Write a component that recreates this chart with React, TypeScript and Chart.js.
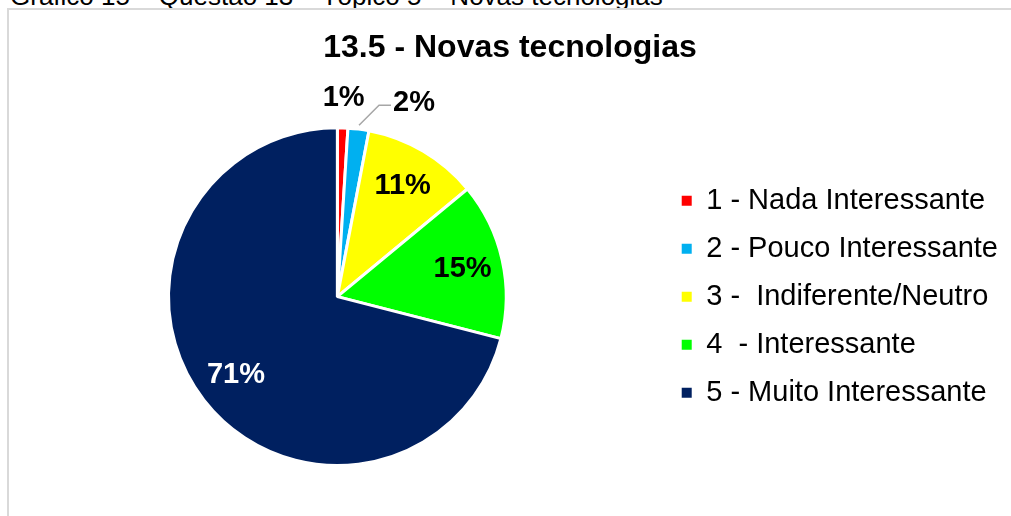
import React, { useEffect, useRef } from 'react';
import { Chart, registerables } from 'chart.js';

Chart.register(...registerables);

// ---- data ----
const categories = [
  '1 - Nada Interessante',
  '2 - Pouco Interessante',
  '3 -  Indiferente/Neutro',
  '4  - Interessante',
  '5 - Muito Interessante',
];
const values = [1, 2, 11, 15, 71];
const valueLabels = ['1%', '2%', '11%', '15%', '71%'];
const chartTitle = '13.5 - Novas tecnologias';
const caption = 'Gráfico 15 – Questão 13 – Tópico 5 – Novas tecnologias';

// ---- styles ----
const sliceColors = ['#FF0000', '#00B0F0', '#FFFF00', '#00FF00', '#002060'];
const labelColors = ['#000000', '#000000', '#000000', '#000000', '#FFFFFF'];
const labelPlacement = ['outside', 'leader', 'inside', 'inside', 'inside'];
const FONT = 'Arial, "Liberation Sans", sans-serif';

const sliceLabelPlugin = {
  id: 'sliceLabels',
  afterDatasetsDraw(chart: any) {
    const { ctx } = chart;
    const meta = chart.getDatasetMeta(0);
    ctx.save();
    ctx.font = `bold 29px ${FONT}`;
    ctx.textBaseline = 'middle';
    meta.data.forEach((arc: any, i: number) => {
      const { x, y, startAngle, endAngle, outerRadius } = arc.getProps(
        ['x', 'y', 'startAngle', 'endAngle', 'outerRadius'],
        true
      );
      const mid = (startAngle + endAngle) / 2;
      const c = Math.cos(mid);
      const s = Math.sin(mid);
      const text = valueLabels[i];
      const mode = labelPlacement[i];
      ctx.fillStyle = labelColors[i];
      if (mode === 'inside') {
        ctx.textAlign = 'center';
        ctx.fillText(text, x + c * outerRadius * 0.76, y + s * outerRadius * 0.76);
      } else if (mode === 'outside') {
        ctx.textAlign = 'center';
        ctx.fillText(text, x + c * outerRadius * 1.18, y + s * outerRadius * 1.18);
      } else {
        const sx = x + c * (outerRadius + 4);
        const sy = y + s * (outerRadius + 4);
        const ex = sx + 20;
        const ey = sy - 20;
        const fx = ex + 12;
        ctx.strokeStyle = '#A6A6A6';
        ctx.lineWidth = 1.5;
        ctx.beginPath();
        ctx.moveTo(sx, sy);
        ctx.lineTo(ex, ey);
        ctx.lineTo(fx, ey);
        ctx.stroke();
        ctx.textAlign = 'left';
        ctx.fillText(text, fx + 2, ey - 2);
      }
    });
    ctx.restore();
  },
};

export default function App() {
  const canvasRef = useRef<HTMLCanvasElement | null>(null);

  useEffect(() => {
    document.body.style.margin = '0';
    document.body.style.overflow = 'hidden';
    const canvas = canvasRef.current;
    if (!canvas) return;
    const chart = new Chart(canvas, {
      type: 'pie',
      data: {
        labels: categories,
        datasets: [
          {
            data: values,
            backgroundColor: sliceColors,
            borderColor: '#FFFFFF',
            borderWidth: 3,
            hoverOffset: 0,
          },
        ],
      },
      options: {
        animation: false,
        responsive: false,
        devicePixelRatio: 1,
        events: [],
        layout: { padding: { left: 12, right: 3, top: 0, bottom: 49 } },
        plugins: {
          title: {
            display: true,
            text: chartTitle,
            color: '#000000',
            font: { family: FONT, size: 32, weight: 'bold', lineHeight: 1.2 },
            padding: { top: 29.4, bottom: 58.5 },
          },
          legend: {
            position: 'right',
            align: 'center',
            fullSize: false,
            labels: {
              boxWidth: 10,
              boxHeight: 10,
              padding: 19,
              color: '#000000',
              font: { family: FONT, size: 29 },
              generateLabels: (ch: any) =>
                (Chart as any).overrides.doughnut.plugins.legend.labels
                  .generateLabels(ch)
                  .map((l: any) => ({ ...l, lineWidth: 0, strokeStyle: l.fillStyle })),
            },
          },
          tooltip: { enabled: false },
        },
      } as any,
      plugins: [sliceLabelPlugin],
    });
    return () => chart.destroy();
  }, []);

  return (
    <div
      style={{
        position: 'relative',
        width: 1011,
        height: 516,
        overflow: 'hidden',
        background: '#FFFFFF',
      }}
    >
      <div
        style={{
          position: 'absolute',
          left: 10,
          top: -17,
          font: `26px ${FONT}`,
          lineHeight: '26px',
          whiteSpace: 'nowrap',
          color: '#000000',
        }}
      >
        {caption}
      </div>
      <div
        style={{
          position: 'absolute',
          left: 7,
          top: 8,
          width: 1100,
          height: 600,
          border: '2px solid #D9D9D9',
          boxSizing: 'border-box',
        }}
      />
      <canvas
        ref={canvasRef}
        width={1011}
        height={516}
        style={{ position: 'absolute', left: 0, top: 0 }}
      />
    </div>
  );
}
